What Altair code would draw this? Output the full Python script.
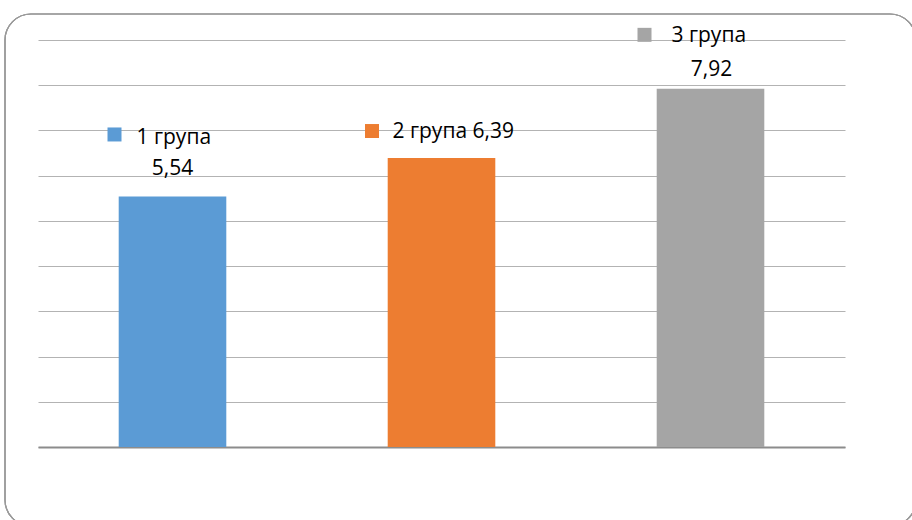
import altair as alt
import pandas as pd

groups = ["1 група", "2 група", "3 група"]
values = [5.54, 6.39, 7.92]
colors = ["#5B9BD5", "#ED7D31", "#A5A5A5"]
grid_values = [0, 1, 2, 3, 4, 5, 6, 7, 8, 9]

df = pd.DataFrame({"group": groups, "value": values})
df["vlabel"] = [f"{v:.2f}".replace(".", ",") for v in values]
df["full"] = df["group"] + " " + df["vlabel"]

FONT = "Open Sans"
FS = 21

x = alt.X("group:N", sort=groups,
          scale=alt.Scale(paddingInner=0.6, paddingOuter=0.3),
          axis=alt.Axis(labels=False, ticks=False, title=None, domain=True,
                        domainColor="#8c8c8c", domainWidth=2, grid=False))
y = alt.Y("value:Q", scale=alt.Scale(domain=[0, 9], nice=False),
          axis=alt.Axis(values=grid_values, labels=False, ticks=False, title=None,
                        domain=False, grid=True, gridColor="#b3b3b3", gridWidth=1))
color = alt.Color("group:N", sort=groups, scale=alt.Scale(domain=groups, range=colors), legend=None)

base = alt.Chart(df)

border = alt.Chart(df).mark_rect(
    fill=None, stroke="#9a9a9a", strokeWidth=1.2, cornerRadius=26
).encode(x=alt.value(-33), x2=alt.value(878), y=alt.value(-26), y2=alt.value(486))

bars = base.mark_bar().encode(x=x, y=y, color=color)

def marker(i, dx, dy):
    return base.transform_filter(alt.datum.group == groups[i]).mark_square(
        size=196, opacity=1, xOffset=dx, yOffset=dy
    ).encode(x=x, y=y, color=color)

def text(i, field, dx, dy, align):
    return base.transform_filter(alt.datum.group == groups[i]).mark_text(
        font=FONT, fontSize=FS, color="#000000", align=align, baseline="middle",
        dx=dx, dy=dy
    ).encode(x=x, y=y, text=f"{field}:N")

layers = [
    border, bars,
    marker(0, -58, -62), text(0, "group", -36, -58, "left"), text(0, "vlabel", 0, -27, "center"),
    marker(1, -69.5, -27), text(1, "full", -49, -26, "left"),
    marker(2, -66, -54), text(2, "group", -39, -53, "left"), text(2, "vlabel", 1, -19, "center"),
]

chart = alt.layer(*layers).properties(
    width=807, height=407,
    background="white",
    autosize=alt.AutoSizeParams(type="none"),
    padding={"left": 38, "top": 40, "right": 67, "bottom": 73},
).configure_view(strokeWidth=0, stroke="transparent")

chart.save("out.html", embed_options={"renderer": "svg", "actions": False})
